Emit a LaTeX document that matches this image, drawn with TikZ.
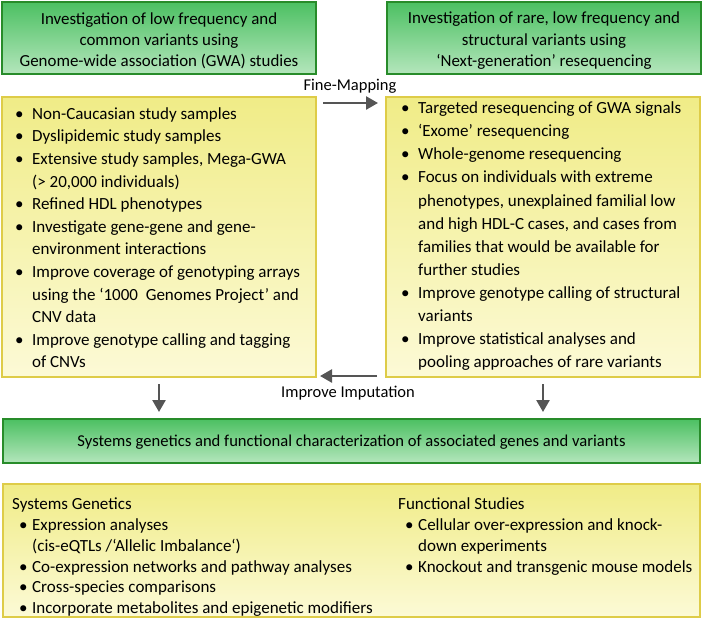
\documentclass[tikz,border=0pt]{standalone}
\usepackage{fontspec}
\setmainfont{Carlito}
\usetikzlibrary{arrows.meta,calc}
\definecolor{gtop}{RGB}{76,192,98}
\definecolor{gbot}{RGB}{180,230,188}
\definecolor{gline}{RGB}{40,140,42}
\definecolor{ytop}{RGB}{240,236,135}
\definecolor{ybot}{RGB}{252,250,214}
\definecolor{yline}{RGB}{222,204,72}
\definecolor{agray}{RGB}{85,85,85}
\newcommand\bul{\makebox[18pt][l]{\hspace{1pt}\textbullet}}
\newcommand\ind{\hspace*{18pt}}
\newcommand\bulb{\hspace*{7pt}\makebox[13pt][l]{\textbullet}}
\newcommand\indb{\hspace*{20pt}}
\begin{document}
\begin{tikzpicture}[x=1pt,y=-1pt,
  gbox/.style={draw=gline,line width=1.8pt,top color=gtop,bottom color=gbot,inner sep=0pt,outer sep=0pt},
  ybox/.style={draw=yline,line width=1.8pt,top color=ytop,bottom color=ybot,inner sep=0pt,outer sep=0pt},
  listtext/.style={align=left,inner sep=0pt,anchor=north west,font=\fontsize{17}{22.6}\selectfont},
  listtextb/.style={align=left,inner sep=0pt,anchor=north west,font=\fontsize{17}{20.8}\selectfont},
  arr/.style={draw=agray,line width=2.5pt,-{Triangle[length=12pt,width=13pt]}},
  lbl/.style={font=\fontsize{16.5}{20}\selectfont,inner sep=0pt}]
\useasboundingbox (0,0) rectangle (703,627);
% top green boxes
\node[gbox,minimum width=314pt,minimum height=72pt,anchor=north west,align=center,
  font=\fontsize{16.9}{21.2}\selectfont] (g1) at (2,2)
  {\rule{0pt}{17pt}Investigation of low frequency and\\common variants using\\Genome-wide association (GWA) studies};
\node[gbox,minimum width=314pt,minimum height=72pt,anchor=north west,align=center,
  font=\fontsize{16.9}{21.2}\selectfont] (g2) at (387,2)
  {\rule{0pt}{17pt}Investigation of rare, low frequency and\\structural variants using\\‘Next-generation’ resequencing};
% yellow list boxes
\node[ybox,minimum width=314pt,minimum height=280pt,anchor=north west] (y1) at (2,97) {};
\node[ybox,minimum width=314pt,minimum height=280pt,anchor=north west] (y2) at (386,97) {};
\node[listtext] (t1) at (14,103.2) {\strut\bul Non-Caucasian study samples\\
\bul Dyslipidemic study samples\\
\bul Extensive study samples, Mega-GWA\\
\ind(> 20,000 individuals)\\
\bul Refined HDL phenotypes\\
\bul Investigate gene-gene and gene-\\
\ind environment interactions\\
\bul Improve coverage of genotyping arrays\\
\ind using the ‘1000\ \ Genomes Project’ and\\
\ind CNV data\\
\bul Improve genotype calling and tagging\\
\ind of CNVs};
\node[listtext,font=\fontsize{17}{23.1}\selectfont] (t2) at (400,97.3) {\strut\bul Targeted resequencing of GWA signals\\
\bul ‘Exome’ resequencing\\
\bul Whole-genome resequencing\\
\bul Focus on individuals with extreme\\
\ind phenotypes, unexplained familial low\\
\ind and high HDL-C cases, and cases from\\
\ind families that would be available for\\
\ind further studies\\
\bul Improve genotype calling of structural\\
\ind variants\\
\bul Improve statistical analyses and\\
\ind pooling approaches of rare variants};
% middle green box
\node[gbox,minimum width=697pt,minimum height=44pt,anchor=north west,
  font=\fontsize{16.6}{19}\selectfont] (g3) at (3,419)
  {\rule{0pt}{14pt}Systems genetics and functional characterization of associated genes and variants};
% bottom yellow box
\node[ybox,minimum width=697pt,minimum height=133pt,anchor=north west] (y3) at (3,484) {};
\node[listtextb] (t3) at (12,495) {\strut Systems Genetics\\
\bulb Expression analyses\\
\indb(cis-eQTLs /‘Allelic Imbalance‘)\\
\bulb Co-expression networks and pathway analyses\\
\bulb Cross-species comparisons\\
\bulb Incorporate metabolites and epigenetic modifiers};
\node[listtextb] (t4) at (398,495) {\strut Functional Studies\\
\bulb Cellular over-expression and knock-\\
\indb down experiments\\
\bulb Knockout and transgenic mouse models};
% labels
\node[lbl] (fm) at (350,86) {Fine-Mapping};
\node[lbl] (ii) at (348,393) {Improve Imputation};
% arrows
\draw[arr] ($(y1.north east)+(7,6)$) -- ($(y2.north west)+(-8,6)$);
\draw[arr] ($(y2.south west)+(-9,-1)$) -- ($(y1.south east)+(4,-1)$);
\draw[arr] ($(y1.south)+(0,7)$) -- ($(y1.south|-g3.north)+(0,-7)$);
\draw[arr] ($(y2.south)+(0,7)$) -- ($(y2.south|-g3.north)+(0,-7)$);
\end{tikzpicture}
\end{document}
